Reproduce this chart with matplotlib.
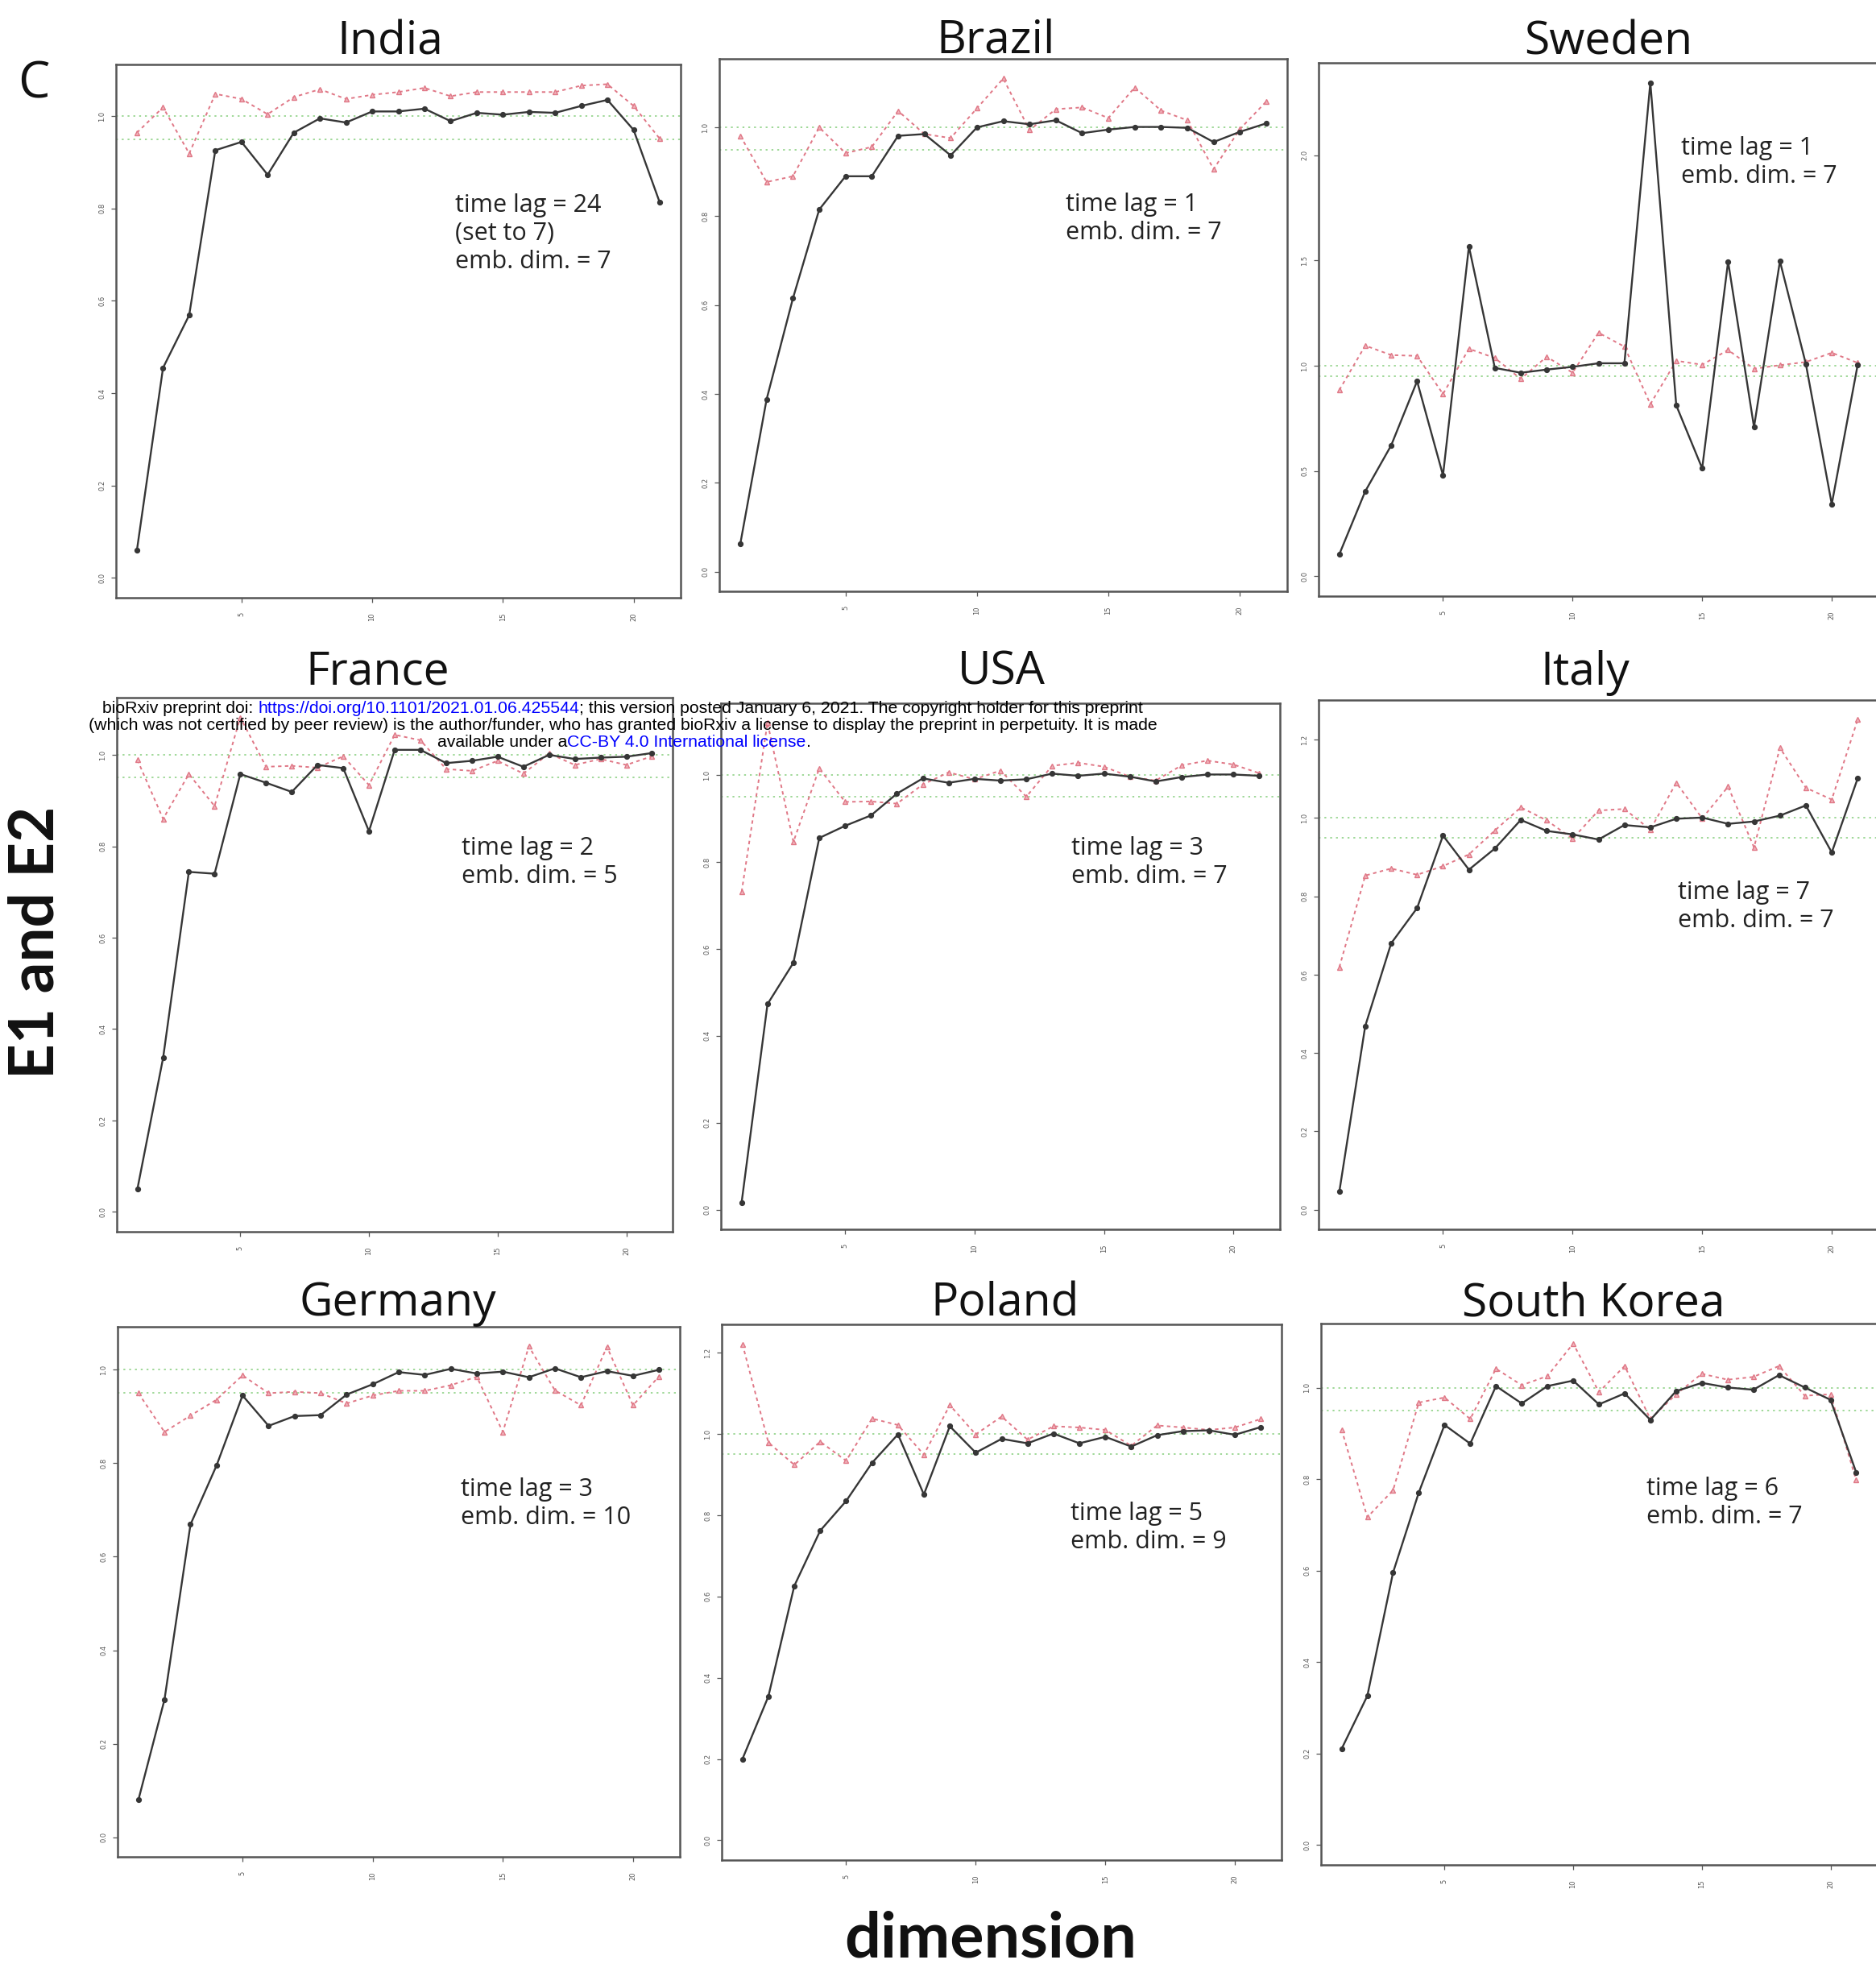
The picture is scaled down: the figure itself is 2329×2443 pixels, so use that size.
import numpy as np
import matplotlib.pyplot as plt
from matplotlib.ticker import MultipleLocator

W, H = 2329, 2443

dims = np.arange(1, 22)

countries = ["India", "Brazil", "Sweden", "France", "USA", "Italy",
             "Germany", "Poland", "South Korea"]

# E1 (black, solid) and E2 (red, dashed) per embedding dimension
e1_india = [0.060, 0.455, 0.569, 0.926, 0.944, 0.873, 0.964, 0.995, 0.986, 1.010, 1.010,
            1.016, 0.989, 1.007, 1.003, 1.009, 1.007, 1.022, 1.035, 0.970, 0.813]
e2_india = [0.964, 1.019, 0.919, 1.048, 1.037, 1.004, 1.041, 1.058, 1.037, 1.046, 1.052,
            1.061, 1.043, 1.052, 1.052, 1.052, 1.052, 1.066, 1.069, 1.022, 0.951]

e1_brazil = [0.063, 0.388, 0.615, 0.815, 0.890, 0.890, 0.981, 0.985, 0.937, 1.000, 1.014,
             1.007, 1.016, 0.987, 0.995, 1.001, 1.001, 0.999, 0.967, 0.990, 1.009]
e2_brazil = [0.981, 0.877, 0.890, 1.000, 0.942, 0.956, 1.037, 0.985, 0.976, 1.043, 1.110,
             0.994, 1.041, 1.045, 1.021, 1.090, 1.038, 1.016, 0.906, 0.996, 1.058]

e1_sweden = [0.105, 0.404, 0.622, 0.927, 0.480, 1.567, 0.990, 0.967, 0.982, 0.995, 1.012,
             1.012, 2.345, 0.812, 0.513, 1.495, 0.709, 1.497, 1.009, 0.343, 1.005]
e2_sweden = [0.885, 1.096, 1.051, 1.047, 0.866, 1.081, 1.037, 0.938, 1.043, 0.967, 1.157,
             1.091, 0.818, 1.024, 1.005, 1.075, 0.986, 1.003, 1.018, 1.062, 1.014]

e1_france = [0.050, 0.337, 0.744, 0.740, 0.958, 0.939, 0.919, 0.978, 0.971, 0.833, 1.011,
             1.011, 0.982, 0.987, 0.996, 0.974, 1.000, 0.991, 0.994, 0.996, 1.004]
e2_france = [0.989, 0.860, 0.958, 0.888, 1.082, 0.974, 0.976, 0.972, 0.997, 0.934, 1.044,
             1.032, 0.969, 0.965, 0.987, 0.959, 1.003, 0.978, 0.991, 0.978, 0.997]

e1_usa = [0.017, 0.473, 0.568, 0.855, 0.883, 0.907, 0.957, 0.992, 0.982, 0.991, 0.987,
          0.990, 1.003, 0.998, 1.003, 0.996, 0.985, 0.995, 1.001, 1.001, 0.998]
e2_usa = [0.731, 1.120, 0.846, 1.015, 0.938, 0.939, 0.934, 0.978, 1.006, 0.990, 1.010,
          0.950, 1.021, 1.028, 1.019, 0.996, 0.987, 1.022, 1.033, 1.024, 1.004]

e1_italy = [0.046, 0.469, 0.680, 0.770, 0.955, 0.868, 0.922, 0.995, 0.967, 0.958, 0.945,
            0.982, 0.976, 0.998, 1.001, 0.985, 0.991, 1.006, 1.032, 0.912, 1.101]
e2_italy = [0.619, 0.853, 0.871, 0.855, 0.877, 0.907, 0.968, 1.027, 0.994, 0.947, 1.019,
            1.023, 0.970, 1.090, 0.999, 1.080, 0.925, 1.179, 1.077, 1.047, 1.251]

e1_germany = [0.080, 0.294, 0.669, 0.795, 0.945, 0.880, 0.901, 0.903, 0.947, 0.969, 0.995,
              0.989, 1.002, 0.992, 0.996, 0.984, 1.003, 0.984, 0.997, 0.987, 1.000]
e2_germany = [0.950, 0.867, 0.902, 0.936, 0.988, 0.950, 0.953, 0.950, 0.928, 0.945, 0.955,
              0.955, 0.967, 0.985, 0.867, 1.050, 0.956, 0.924, 1.049, 0.924, 0.986]

e1_poland = [0.200, 0.354, 0.626, 0.762, 0.835, 0.929, 0.999, 0.851, 1.019, 0.954, 0.988,
             0.977, 1.001, 0.977, 0.993, 0.969, 0.997, 1.007, 1.009, 0.998, 1.017]
e2_poland = [1.221, 0.979, 0.924, 0.981, 0.934, 1.038, 1.022, 0.949, 1.071, 0.999, 1.043,
             0.986, 1.019, 1.016, 1.010, 0.971, 1.021, 1.016, 1.010, 1.016, 1.037]

e1_korea = [0.210, 0.326, 0.596, 0.771, 0.919, 0.878, 1.004, 0.966, 1.004, 1.016, 0.964,
            0.988, 0.930, 0.993, 1.011, 1.001, 0.996, 1.028, 1.001, 0.974, 0.815]
e2_korea = [0.909, 0.717, 0.776, 0.968, 0.979, 0.932, 1.042, 1.006, 1.026, 1.097, 0.991,
            1.048, 0.932, 0.986, 1.031, 1.018, 1.024, 1.048, 0.983, 0.986, 0.798]

time_lags = ["24", "1", "1", "2", "3", "7", "3", "5", "6"]
emb_dims = ["7", "7", "7", "5", "7", "7", "10", "9", "7"]
lag_notes = {"India": "(set to 7)"}

e1_all = [e1_india, e1_brazil, e1_sweden, e1_france, e1_usa, e1_italy,
          e1_germany, e1_poland, e1_korea]
e2_all = [e2_india, e2_brazil, e2_sweden, e2_france, e2_usa, e2_italy,
          e2_germany, e2_poland, e2_korea]

# panel frames in pixels: left, top, right, bottom
boxes = [(144, 80, 845, 742), (893, 73, 1598, 734), (1637, 78, 2332, 740),
         (145, 866, 835, 1529), (895, 873, 1589, 1526), (1637, 869, 2332, 1526),
         (146, 1647, 844, 2305), (896, 1644, 1591, 2309), (1640, 1643, 2330, 2315)]
title_pos = [(484, 67), (1236, 66), (1997, 67), (469, 850), (1243, 850), (1968, 850),
             (494, 1633), (1248, 1633), (1978, 1634)]
note_pos = [(565, 263), (1323, 262), (2087, 192), (573, 1061), (1330, 1061), (2083, 1116),
            (572, 1857), (1329, 1887), (2044, 1856)]

BLACK = "#363636"
RED = "#e07786"
GREEN = "#9fd898"
FRAME = "#555555"


def fx(x):
    return x / W


def fy(y):
    return 1 - y / H


fig = plt.figure(figsize=(W / 100, H / 100), dpi=100)
fig.patch.set_facecolor("white")

for i, name in enumerate(countries):
    l, t, r, b = boxes[i]
    ax = fig.add_axes([fx(l), fy(b), (r - l) / W, (b - t) / H])
    e1 = np.array(e1_all[i])
    e2 = np.array(e2_all[i])

    # reference lines at 1 and 0.95
    for h in (1.0, 0.95):
        ax.axhline(h, color=GREEN, lw=1.4, ls=(0, (1.2, 2.5)), zorder=1)

    ax.plot(dims, e2, color=RED, lw=1.4, ls=(0, (2.2, 2.2)), marker="^", ms=5,
            mfc="#efb3bb", mec=RED, mew=1.0, zorder=2)
    ax.plot(dims, e1, color=BLACK, lw=1.7, marker="o", ms=4.2,
            mfc=BLACK, mec=BLACK, zorder=3)

    # R-style 4% padding around 1..21 and 0..max
    top = max(e1.max(), e2.max())
    ax.set_xlim(1 - 0.04 * 20, 21 + 0.04 * 20)
    ax.set_ylim(-0.04 * top, 1.04 * top)
    ax.xaxis.set_major_locator(MultipleLocator(5))
    ax.yaxis.set_major_locator(MultipleLocator(0.5 if top > 1.5 else 0.2))
    ax.yaxis.set_major_formatter(plt.FuncFormatter(lambda v, p: f"{v:.1f}"))
    ax.tick_params(axis="both", direction="out", length=4, width=0.9, colors=FRAME,
                   labelsize=6, labelcolor="#555555")
    ax.tick_params(axis="y", pad=5, labelrotation=90)
    ax.tick_params(axis="x", pad=9, labelrotation=90)
    for lab in ax.get_yticklabels():
        lab.set_va("center")
    for sp in ax.spines.values():
        sp.set_color(FRAME)
        sp.set_linewidth(1.8)

    tx, ty = title_pos[i]
    fig.text(fx(tx), fy(ty), name, ha="center", va="baseline",
             fontsize=41, family="Open Sans", color="#111111")

    lines = ["time lag = " + time_lags[i]]
    if name in lag_notes:
        lines.append(lag_notes[name])
    lines.append("emb. dim. = " + emb_dims[i])
    nx, ny = note_pos[i]
    for k, s in enumerate(lines):
        fig.text(fx(nx), fy(ny + 35 * k), s, ha="left", va="baseline",
                 fontsize=22, family="Open Sans", color="#222222")

fig.text(fx(22), fy(122), "C", ha="left", va="baseline", fontsize=45,
         family="Open Sans", color="#111111")
fig.text(fx(80), fy(1170), "E1 and E2", rotation=90, ha="right", va="center",
         fontsize=55, family="Lato", fontweight="bold", color="#111111")
fig.text(fx(1230), fy(2430), "dimension", ha="center", va="baseline",
         fontsize=57, family="Lato", fontweight="bold", color="#111111")

# preprint notice overlaid across the middle row
over = fig.add_axes([0, 0, 1, 1])
over.axis("off")
notice = [
    (127, 885, [("bioRxiv preprint doi: ", "black"),
                ("https://doi.org/10.1101/2021.01.06.425544", "#0000ff"),
                ("; this version posted January 6, 2021. The copyright holder for this preprint", "black")]),
    (110, 906, [("(which was not certified by peer review) is the author/funder, who has granted "
                 "bioRxiv a license to display the preprint in perpetuity. It is made", "black")]),
    (543, 927, [("available under a", "black"), ("CC-BY 4.0 International license", "#0000ff"),
                (".", "black")]),
]
for x0, y0, parts in notice:
    prev = None
    for s, c in parts:
        if prev is None:
            prev = over.text(fx(x0), fy(y0), s, ha="left", va="baseline", fontsize=15.3,
                             family="Liberation Sans", color=c, transform=fig.transFigure)
        else:
            prev = over.annotate(s, xy=(1, 0), xycoords=prev, ha="left", va="bottom",
                                 fontsize=15.3, family="Liberation Sans", color=c)

fig.savefig("out.png", dpi=100)
